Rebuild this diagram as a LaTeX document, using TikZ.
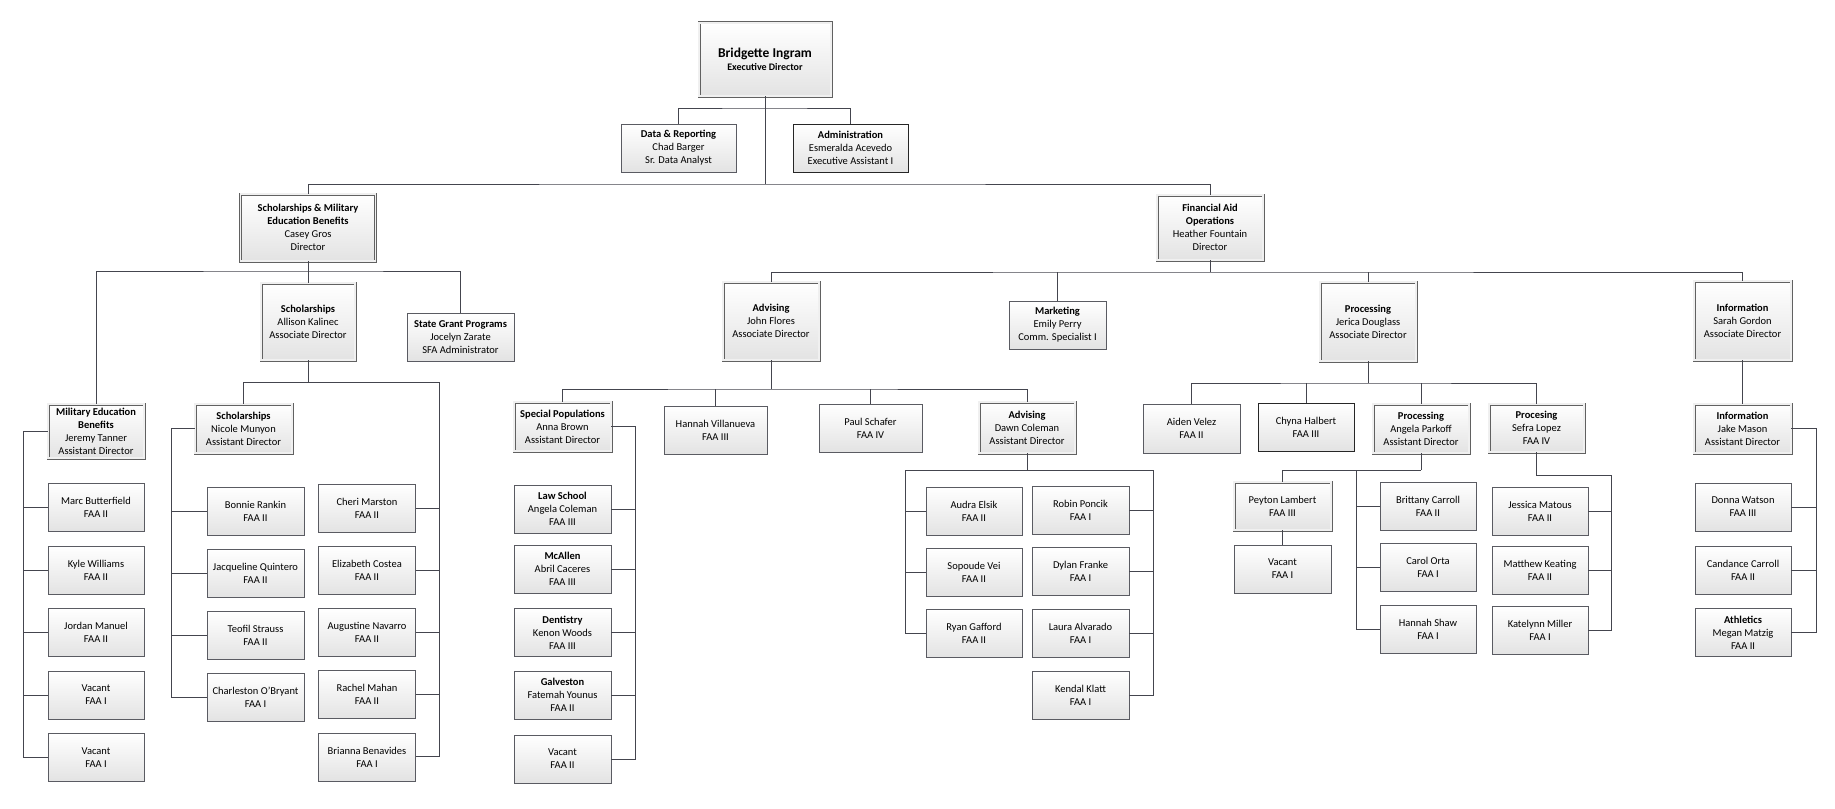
\documentclass[tikz,border=0pt]{standalone}
\usepackage{fontspec}
\setmainfont{Carlito}
\definecolor{linecol}{HTML}{44454E}
\definecolor{boxline}{HTML}{5A5B62}
\tikzset{
  box/.style={draw=boxline, line width=0.8pt, top color=white, bottom color=black!11,
    align=center, minimum width=96pt, minimum height=48pt, inner sep=1pt,
    font=\fontsize{10.5}{13}\selectfont},
  mgr/.style={box, draw=black!62, line width=0.7pt, double=black!6, double distance=1.6pt},
  conn/.style={draw=linecol, line width=1pt}
}
\begin{document}
\begin{tikzpicture}[x=1pt,y=-1pt]
\fill[white] (0,0) rectangle (1835,808);
\useasboundingbox (0,0) rectangle (1835,808);
% top level
\node[mgr, minimum width=132pt, minimum height=73pt] (root) at (765,59.5)
  {{\fontsize{13.5}{16}\selectfont\textbf{Bridgette Ingram}}\\{\fontsize{10}{12}\selectfont\textbf{Executive Director}}};
\node[box, minimum width=115pt] (dat) at (678.5,148) {\textbf{Data \& Reporting}\\Chad Barger\\Sr. Data Analyst};
\node[box, minimum width=115pt, draw=black!85] (adm) at (850.5,148) {\textbf{Administration}\\Esmeralda Acevedo\\Executive Assistant I};
\node[mgr, minimum width=135pt, minimum height=67pt] (smeb) at (308,227.5)
  {\textbf{Scholarships \& Military}\\\textbf{Education Benefits}\\Casey Gros\\Director};
\node[mgr, minimum width=106pt, minimum height=65pt] (fao) at (1210,227.5)
  {\textbf{Financial Aid}\\\textbf{Operations}\\Heather Fountain\\Director};
\coordinate (j0) at (765,108);
\coordinate (j1) at (765,184);
\draw[conn] (root.south) -- (j1);
\draw[conn] (dat.north) |- (j0) -| (adm.north);
\draw[conn] (smeb.north) |- (j1) -| (fao.north);

% scholarships & military
\node[mgr, minimum width=94pt, minimum height=77pt] (scha) at (308,321.5) {\textbf{Scholarships}\\Allison Kalinec\\Associate Director};
\node[box, minimum width=107pt] (sgp) at (460.5,337) {\textbf{State Grant Programs}\\Jocelyn Zarate\\SFA Administrator};
\node[mgr, minimum height=54pt] (mil) at (96,431) {\textbf{Military Education}\\\textbf{Benefits}\\Jeremy Tanner\\Assistant Director};
\node[mgr, minimum width=97pt, minimum height=49pt] (schn) at (243.5,428.5) {\textbf{Scholarships}\\Nicole Munyon\\Assistant Director};
\coordinate (j2) at (308,271);
\coordinate (j3) at (308,382);
\coordinate (rc) at (439,382);
\draw[conn] (smeb.south) -- (scha.north);
\draw[conn] (mil.north) |- (j2) -| (sgp.north);
\draw[conn] (scha.south) -- (j3);

\foreach \n/\a/\b [count=\i from 0] in {marc/Marc Butterfield/FAA II, kyle/Kyle Williams/FAA II,
    jordan/Jordan Manuel/FAA II, vaca/Vacant/FAA I, vacb/Vacant/FAA I}
  \node[box] (\n) at (96,507.5+62.5*\i) {\a\\\b};
\foreach \n/\a/\b [count=\i from 0] in {bonnie/Bonnie Rankin/FAA II, jacq/Jacqueline Quintero/FAA II,
    teofil/Teofil Strauss/FAA II, charl/Charleston O'Bryant/FAA I}
  \node[box, minimum width=97pt] (\n) at (255.5,511+62.2*\i) {\a\\\b};
\foreach \n/\a/\b [count=\i from 0] in {cheri/Cheri Marston/FAA II, eliz/Elizabeth Costea/FAA II,
    aug/Augustine Navarro/FAA II, rachel/Rachel Mahan/FAA II, brianna/Brianna Benavides/FAA I}
  \node[box, minimum width=97pt] (\n) at (367,508.5+62.1*\i) {\a\\\b};

\coordinate (mc) at (23,431);
\coordinate (nc) at (171,428.5);
\draw[conn] (mil.west) -- (mc) |- (vacb.west);
\foreach \n in {marc,kyle,jordan,vaca} \draw[conn] (\n.west) -- (mc |- \n.west);
\draw[conn] (schn.west) -- (nc) |- (charl.west);
\foreach \n in {bonnie,jacq,teofil} \draw[conn] (\n.west) -- (nc |- \n.west);
\draw[conn] (schn.north) |- (rc) |- (brianna.east);
\foreach \n in {cheri,eliz,aug,rachel} \draw[conn] (\n.east) -- (rc |- \n.east);

% financial aid operations
\node[mgr, minimum height=78pt] (advj) at (771,321) {\textbf{Advising}\\John Flores\\Associate Director};
\node[box, minimum width=97pt] (mkt) at (1057.5,325) {\textbf{Marketing}\\Emily Perry\\Comm. Specialist I};
\node[mgr, minimum height=79pt] (procj) at (1368,321.5) {\textbf{Processing}\\Jerica Douglass\\Associate Director};
\node[mgr, minimum width=97pt, minimum height=79pt] (infos) at (1742.5,320.5) {\textbf{Information}\\Sarah Gordon\\Associate Director};
\coordinate (j6) at (1210,272);
\draw[conn] (fao.south) -- (j6);
\draw[conn] (advj.north) |- (j6) -| (infos.north);
\draw[conn] (mkt.north) -- (mkt.north |- j6);
\draw[conn] (procj.north) -- (procj.north |- j6);

% advising
\node[mgr, minimum width=97pt, minimum height=49pt] (spop) at (562.5,426.5) {\textbf{Special Populations}\\Anna Brown\\Assistant Director};
\node[box, minimum width=103pt] (hanv) at (715.5,430) {Hannah Villanueva\\FAA III};
\node[box, minimum width=103pt] (paul) at (870.5,428) {Paul Schafer\\FAA IV};
\node[mgr, minimum height=51pt] (advd) at (1027,427.5) {\textbf{Advising}\\Dawn Coleman\\Assistant Director};
\coordinate (j5) at (771,389);
\draw[conn] (advj.south) -- (j5);
\draw[conn] (spop.north) |- (j5) -| (advd.north);
\draw[conn] (hanv.north) -- (hanv.north |- j5);
\draw[conn] (paul.north) -- (paul.north |- j5);

\node[box, minimum width=97pt] (law) at (562.5,509) {\textbf{Law School}\\Angela Coleman\\FAA III};
\node[box, minimum width=97pt] (mca) at (562.5,569) {\textbf{McAllen}\\Abril Caceres\\FAA III};
\node[box, minimum width=97pt] (dent) at (562.5,632.5) {\textbf{Dentistry}\\Kenon Woods\\FAA III};
\node[box, minimum width=97pt] (galv) at (562.5,695) {\textbf{Galveston}\\Fatemah Younus\\FAA II};
\node[box, minimum width=97pt] (vacs) at (562.5,759) {Vacant\\FAA II};
\coordinate (sc) at (635,426.5);
\draw[conn] (spop.east) -- (sc) |- (vacs.east);
\foreach \n in {law,mca,dent,galv} \draw[conn] (\n.east) -- (sc |- \n.east);

\foreach \n/\a/\b [count=\i from 0] in {audra/Audra Elsik/FAA II, sopoude/Sopoude Vei/FAA II, ryan/Ryan Gafford/FAA II}
  \node[box] (\n) at (974,511+61.3*\i) {\a\\\b};
\foreach \n/\a/\b [count=\i from 0] in {robin/Robin Poncik/FAA I, dylan/Dylan Franke/FAA I,
    laura/Laura Alvarado/FAA I, kendal/Kendal Klatt/FAA I}
  \node[box, minimum width=97pt] (\n) at (1080.5,510+61.7*\i) {\a\\\b};
\coordinate (dwl) at (905,470);
\coordinate (dwr) at (1153,470);
\draw[conn] (advd.south) -- (advd.south |- dwl);
\draw[conn] (ryan.west) -| (dwl) -- (dwr) |- (kendal.east);
\foreach \n in {audra,sopoude} \draw[conn] (\n.west) -- (dwl |- \n.west);
\foreach \n in {robin,dylan,laura} \draw[conn] (\n.east) -- (dwr |- \n.east);

% processing
\node[box, minimum width=97pt, minimum height=49pt] (aiden) at (1191.5,428.5) {Aiden Velez\\FAA II};
\node[box, draw=black!85] (chyna) at (1306,427) {Chyna Halbert\\FAA III};
\node[mgr, minimum height=49pt] (proca) at (1421,428.5) {\textbf{Processing}\\Angela Parkoff\\Assistant Director};
\node[mgr, minimum width=95pt] (procs) at (1536.5,428) {\textbf{Procesing}\\Sefra Lopez\\FAA IV};
\coordinate (j7) at (1368,383);
\draw[conn] (procj.south) -- (j7);
\draw[conn] (aiden.north) |- (j7) -| (procs.north);
\draw[conn] (chyna.north) -- (chyna.north |- j7);
\draw[conn] (proca.north) -- (proca.north |- j7);

\node[mgr, minimum width=97pt] (peyton) at (1282.5,506) {Peyton Lambert\\FAA III};
\node[box, minimum width=97pt] (vacp) at (1282.5,569) {Vacant\\FAA I};
\foreach \n/\a/\b [count=\i from 0] in {brit/Brittany Carroll/FAA II, carol/Carol Orta/FAA I, hshaw/Hannah Shaw/FAA I}
  \node[box] (\n) at (1428,506+61.5*\i) {\a\\\b};
\foreach \n/\a/\b [count=\i from 0] in {jess/Jessica Matous/FAA II, matt/Matthew Keating/FAA II, kate/Katelynn Miller/FAA I}
  \node[box] (\n) at (1540,511+59.5*\i) {\a\\\b};
\coordinate (j8) at (1421,470);
\coordinate (pc) at (1356,470);
\coordinate (sf) at (1611,475);
\draw[conn] (proca.south) -- (j8);
\draw[conn] (peyton.north) |- (j8);
\draw[conn] (peyton.south) -- (vacp.north);
\draw[conn] (pc) |- (hshaw.west);
\foreach \n in {brit,carol} \draw[conn] (\n.west) -- (pc |- \n.west);
\draw[conn] (procs.south) |- (sf) |- (kate.east);
\foreach \n in {jess,matt} \draw[conn] (\n.east) -- (sf |- \n.east);

% information
\node[mgr, minimum width=97pt, minimum height=49pt] (infoj) at (1742.5,428.5) {\textbf{Information}\\Jake Mason\\Assistant Director};
\node[box] (donna) at (1743,507) {Donna Watson\\FAA III};
\node[box] (cand) at (1743,570) {Candance Carroll\\FAA II};
\node[box] (athl) at (1743,632.5) {\textbf{Athletics}\\Megan Matzig\\FAA II};
\coordinate (ic) at (1816,428.5);
\draw[conn] (infos.south) -- (infoj.north);
\draw[conn] (infoj.east) -- (ic) |- (athl.east);
\foreach \n in {donna,cand} \draw[conn] (\n.east) -- (ic |- \n.east);
\end{tikzpicture}
\end{document}
